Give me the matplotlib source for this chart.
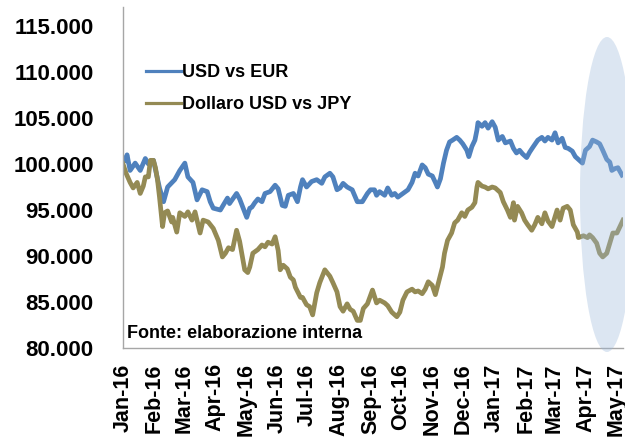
import pandas as pd
import matplotlib.pyplot as plt
import matplotlib.dates as mdates
from matplotlib.patches import Ellipse

plt.rcParams['font.family'] = ['Liberation Sans', 'DejaVu Sans']

# giorni dal 1 gennaio 2016 e valori indicizzati (base 100)
start = pd.Timestamp("2016-01-01")

eur_days = [2, 4, 7, 12, 17, 22, 25, 30, 36, 40,
            44, 51, 56, 61, 64, 69, 73, 78, 83, 86,
            89, 96, 103, 105, 112, 115, 122, 125, 127, 130,
            133, 137, 140, 145, 150, 153, 157, 160, 163, 168,
            172, 175, 177, 181, 186, 191, 196, 199, 204, 207,
            211, 214, 217, 221, 226, 231, 236, 241, 244, 248,
            250, 253, 258, 261, 265, 268, 271, 276, 281, 285,
            288, 291, 295, 298, 301, 305, 308, 310, 313, 316,
            319, 322, 325, 329, 332, 335, 339, 341, 344, 347,
            349, 350, 354, 357, 360, 364, 367, 370, 374, 377,
            382, 385, 388, 391, 394, 398, 401, 404, 409, 413,
            416, 419, 423, 426, 429, 433, 436, 439, 443, 446,
            449, 453, 456, 460, 463, 467, 470, 473, 477, 480,
            482, 485, 488, 492]
eur_vals = [100.4, 101.0, 99.3, 100.1, 99.3, 100.6, 100.0, 100.4, 97.4, 95.9,
            97.5, 98.3, 99.3, 100.1, 98.6, 98.0, 96.1, 97.2, 97.0, 95.9,
            95.2, 95.0, 96.3, 95.7, 96.8, 96.2, 94.2, 95.2, 95.3, 95.8,
            96.2, 95.9, 96.8, 97.0, 97.7, 97.3, 95.5, 95.4, 96.6, 96.8,
            95.9, 97.5, 98.3, 97.5, 98.1, 98.3, 97.9, 98.6, 99.0, 98.6,
            97.2, 97.4, 97.9, 97.5, 97.2, 95.9, 95.9, 96.8, 97.2, 97.2,
            96.6, 97.0, 96.6, 97.4, 96.6, 96.8, 96.4, 96.8, 97.2, 98.0,
            99.0, 98.7, 99.9, 99.6, 98.9, 98.7, 98.0, 97.5, 98.4, 100.1,
            101.5, 102.4, 102.6, 102.9, 102.6, 102.2, 101.5, 100.8, 101.9, 102.6,
            103.7, 104.5, 104.1, 104.5, 103.9, 104.6, 104.0, 102.6, 103.0, 102.3,
            102.5, 101.7, 101.2, 101.5, 101.1, 100.7, 101.3, 101.8, 102.6, 102.9,
            102.5, 102.9, 102.6, 103.4, 102.3, 102.8, 101.8, 101.7, 101.4, 100.8,
            100.5, 100.1, 101.5, 101.9, 102.6, 102.4, 102.2, 101.5, 100.5, 100.2,
            99.3, 99.5, 99.6, 98.8]

jpy_days = [0, 3, 7, 10, 14, 17, 20, 22, 25, 27,
            30, 32, 34, 36, 39, 41, 44, 48, 49, 53,
            56, 61, 64, 68, 71, 76, 79, 84, 89, 94,
            98, 101, 104, 108, 112, 115, 120, 123, 125, 128,
            133, 137, 140, 143, 147, 150, 153, 155, 158, 162,
            165, 168, 170, 175, 177, 181, 184, 187, 191, 194,
            199, 204, 207, 211, 214, 217, 221, 224, 227, 231,
            234, 237, 241, 246, 248, 250, 253, 258, 261, 265,
            270, 273, 276, 280, 285, 288, 291, 295, 298, 301,
            305, 308, 311, 315, 317, 320, 324, 327, 330, 334,
            337, 340, 344, 347, 349, 350, 354, 357, 360, 364,
            367, 372, 375, 379, 382, 385, 386, 389, 393, 396,
            399, 403, 406, 409, 413, 416, 419, 423, 426, 428,
            431, 434, 438, 441, 444, 448, 449, 454, 458, 460,
            463, 467, 470, 473, 477, 480, 483, 487, 490, 493]
jpy_vals = [100.0, 99.0, 98.0, 97.4, 98.0, 96.8, 97.6, 98.6, 98.6, 100.4,
            100.4, 99.6, 98.3, 96.4, 93.2, 94.7, 94.9, 93.7, 94.2, 92.6,
            94.7, 94.3, 94.8, 93.9, 94.8, 92.5, 93.9, 93.7, 93.0, 91.7,
            89.9, 90.3, 90.9, 90.7, 92.8, 91.6, 88.5, 88.2, 88.8, 90.3,
            90.7, 91.2, 91.0, 91.5, 91.3, 92.1, 90.6, 88.5, 89.0, 88.6,
            87.7, 87.4, 86.6, 85.5, 85.5, 84.7, 84.5, 83.6, 86.0, 87.1,
            88.5, 87.8, 87.1, 86.1, 84.5, 84.0, 84.8, 84.2, 84.0, 83.0,
            83.0, 84.3, 84.8, 86.3, 85.6, 84.9, 85.2, 84.9, 84.6, 83.9,
            83.4, 83.9, 85.2, 86.1, 86.4, 86.1, 86.2, 85.9, 86.4, 87.2,
            86.8, 85.8, 87.1, 88.8, 90.3, 91.7, 92.5, 93.6, 93.9, 94.7,
            94.3, 95.0, 95.3, 95.8, 97.5, 98.0, 97.6, 97.5, 97.3, 97.5,
            97.4, 96.9, 95.9, 95.0, 94.2, 95.8, 93.9, 95.4, 94.7, 93.9,
            93.4, 92.8, 93.4, 94.2, 93.5, 94.7, 93.8, 93.2, 94.3, 95.0,
            93.9, 95.2, 95.4, 95.0, 93.4, 92.6, 92.0, 92.2, 92.0, 92.3,
            92.0, 91.4, 90.3, 89.9, 90.3, 91.4, 92.5, 92.5, 93.2, 93.9]

yticks = [80, 85, 90, 95, 100, 105, 110, 115]

eur_dates = start + pd.to_timedelta(eur_days, unit="D")
jpy_dates = start + pd.to_timedelta(jpy_days, unit="D")

fig = plt.figure(figsize=(6.25, 4.37), dpi=100)
ax = fig.add_axes([123 / 625, 89 / 437, 500 / 625, 341 / 437])

ax.plot(eur_dates, eur_vals, color="#4F81BD", lw=3.4, label="USD vs EUR", solid_joinstyle="round")
ax.plot(jpy_dates, jpy_vals, color="#948A54", lw=3.4, label="Dollaro USD vs JPY", solid_joinstyle="round")

ax.set_ylim(80, 117.07)
ax.set_xlim(start, start + pd.Timedelta(days=493))
ax.set_yticks(yticks)
ax.set_yticklabels([f"{v:.3f}" for v in yticks], fontsize=16, fontweight="bold")

ax.xaxis.set_major_locator(mdates.MonthLocator())
ax.xaxis.set_major_formatter(mdates.DateFormatter("%b-%y"))
for lab in ax.get_xticklabels():
    lab.set_rotation(90)
    lab.set_fontsize(15.5)
    lab.set_fontweight("bold")
    lab.set_va("top")
    lab.set_ha("center")

ax.tick_params(axis="y", length=0, pad=21)
ax.tick_params(axis="x", length=0, pad=11)

for s in ["top", "right"]:
    ax.spines[s].set_visible(False)
for s in ["left", "bottom"]:
    ax.spines[s].set_color("#A6A6A6")
    ax.spines[s].set_linewidth(1)

leg = ax.legend(loc="upper left", bbox_to_anchor=(137 / 625, 1 - 55 / 437),
                bbox_transform=fig.transFigure, frameon=False, borderpad=0,
                handlelength=1.95, handletextpad=0.05, labelspacing=0.85,
                prop={"size": 13, "weight": "bold"})
for ln in leg.get_lines():
    ln.set_linewidth(2.3)

fig.text(127 / 625, 1 - 333 / 437, "Fonte: elaborazione interna",
         fontsize=13, fontweight="bold", va="center", ha="left")

# evidenziazione ultimi mesi
ell = Ellipse((607 / 625, 1 - 194.5 / 437), 54 / 625, 315 / 437,
              transform=fig.transFigure, facecolor="#9BB8DA", alpha=0.35,
              edgecolor="none", zorder=10)
fig.add_artist(ell)

plt.savefig("out.png", dpi=100)
